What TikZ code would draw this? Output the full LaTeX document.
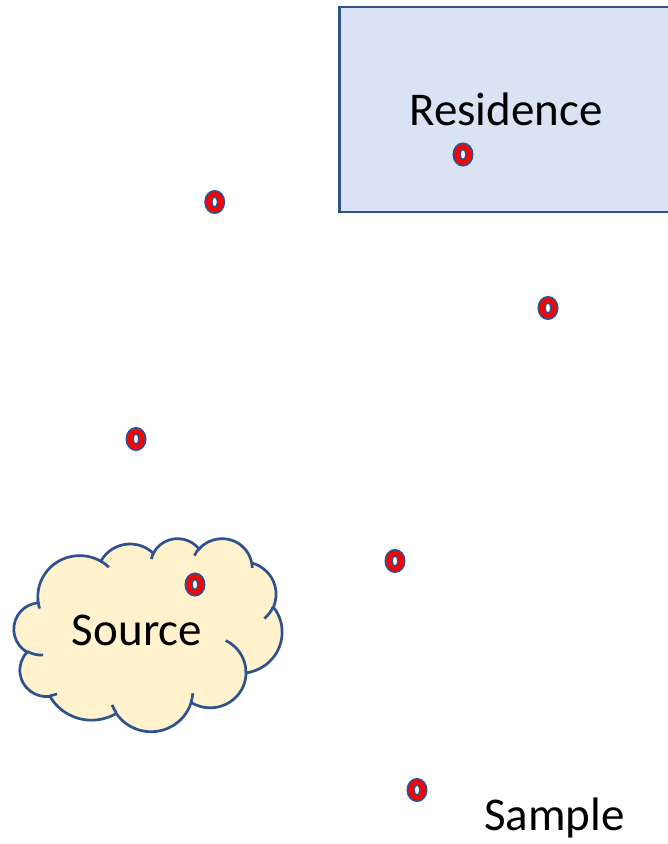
\documentclass[tikz,border=0pt]{standalone}
\usepackage{fontspec}
\setmainfont{Carlito}
\usetikzlibrary{shapes.geometric}
\definecolor{edgeblue}{HTML}{2F528F}
\definecolor{ringred}{HTML}{FF0000}
\definecolor{cloudfill}{HTML}{FFF2CC}
\definecolor{boxfill}{HTML}{DAE3F3}
\begin{document}
\begin{tikzpicture}[x=1pt,y=-1pt,
  caption/.style={font=\fontsize{47}{56}\selectfont, inner sep=0pt, text=black},
  ring/.style={ellipse, draw=edgeblue, fill=ringred, line width=1.7pt,
    minimum width=19.3pt, minimum height=22.4pt, inner sep=0pt,
    path picture={\draw[edgeblue, fill=white, line width=1.5pt]
      (path picture bounding box.center) ellipse [x radius=2.9pt, y radius=5.1pt];}},
  outline/.style={draw=edgeblue, line width=2.7pt}]
\useasboundingbox (0,0) rectangle (668,844);
\clip (0,0) rectangle (668,844);
\fill[white] (0,0) rectangle (668,844);

% residence block, running past the right edge
\node[outline, fill=boxfill, caption, minimum width=333pt, minimum height=205pt]
  (res) at (506,109.5) {Residence};

% cloud outline (bumps as elliptic arcs, path units 0..432)
\begin{scope}[shift={(14,538)}, x=0.6204pt, y=-0.4468pt]
  \path[outline, fill=cloudfill] (39.00,143.70)
    \foreach \wr/\hr/\st/\sw
      [evaluate=\st as \angA using {atan2(\wr*sin(\st),\hr*cos(\st))},
       evaluate=\sw as \angD using {atan2(\wr*sin(\st+\sw),\hr*cos(\st+\sw))-atan2(\wr*sin(\st),\hr*cos(\st))},
       evaluate=\angD as \angE using {\angD-360*round((\angD-\sw)/360)}]
    in {67.53/91.90/-190.4875/123.7805,
        53.33/72.67/-144.1024/89.9452,
        43.65/59.45/-145.8079/99.7230,
        48.57/65.95/-130.9861/117.2417,
        53.33/72.73/-78.7089/109.0269,
        67.75/92.20/-46.2673/130.2690,
        57.85/78.67/0.6250/114.0333,
        67.52/92.15/22.4516/115.1726,
        77.20/105.43/66.2426/75.7110,
        43.60/59.18/-274.9421/146.7356,
        43.45/59.45/-246.8285/152.5189}
    { arc[x radius=\wr, y radius=\hr, start angle=\angA, delta angle=\angE] } -- cycle;
  % inner creases of the cloud
  \path[outline]
    \foreach \px/\py/\wr/\hr/\st/\sw
      [evaluate=\st as \angA using {atan2(\wr*sin(\st),\hr*cos(\st))},
       evaluate=\sw as \angD using {atan2(\wr*sin(\st+\sw),\hr*cos(\st+\sw))-atan2(\wr*sin(\st),\hr*cos(\st))},
       evaluate=\angD as \angE using {\angD-360*round((\angD-\sw)/360)}]
    in {46.93/261.77/43.45/59.45/86.7420/26.4295,
        69.28/348.99/43.60/59.18/73.6105/11.4475,
        164.78/390.90/67.52/92.15/137.6242/14.0811,
        288.27/347.51/67.52/92.15/6.4533/15.9984,
        341.29/229.54/57.85/78.67/-70.2924/70.9174,
        417.98/153.54/53.33/72.73/30.3180/27.7515,
        383.24/54.26/48.57/65.95/-13.7443/14.8589,
        290.78/39.52/48.57/65.95/-149.1815/18.1954,
        221.41/47.20/43.65/59.45/-163.4943/17.6864,
        140.00/51.92/67.53/91.90/-66.7070/12.3194,
        41.27/157.89/67.53/91.90/157.6544/11.8582}
    { (\px,\py) arc[x radius=\wr, y radius=\hr, start angle=\angA, delta angle=\angE] };
\end{scope}

% labels
\node[caption, anchor=base] (src) at (137,645.5) {Source};
\node[caption, anchor=base] (smp) at (554.5,830) {Sample};

% sampling points
\node[ring] (p1) at (214.7,202) {};
\node[ring] (p2) at (463,154.5) {};
\node[ring] (p3) at (548,308) {};
\node[ring] (p4) at (136,439) {};
\node[ring] (p5) at (395,561) {};
\node[ring] (p6) at (195,584.5) {};
\node[ring] (p7) at (417,790) {};
\end{tikzpicture}
\end{document}
